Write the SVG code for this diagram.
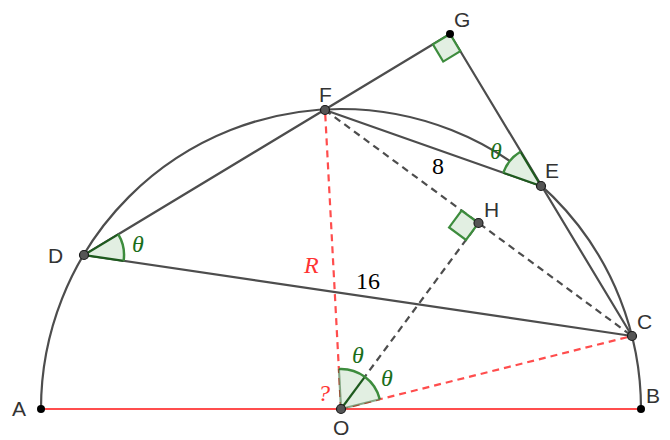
<svg xmlns="http://www.w3.org/2000/svg" width="670" height="440" viewBox="0 0 670 440">
<style>
.ln{stroke:#4d4d4d;stroke-width:2.2;fill:none;stroke-linecap:round}
.dsh{stroke:#4d4d4d;stroke-width:2.2;fill:none;stroke-dasharray:7,5}
.red{stroke:#ff4d4d;stroke-width:2.2;fill:none}
.rdsh{stroke:#ff4d4d;stroke-width:2.2;fill:none;stroke-dasharray:7,5}
.sec{fill:#e2efe2;stroke:none}
.sedge{stroke:#1e5a1e;stroke-width:2.2;fill:none}
.sarc{stroke:#3d8c3d;stroke-width:2.5;fill:none}
.ra{fill:#e2efe2;stroke:#3d8c3d;stroke-width:2.2}
.pt{fill:#555;stroke:#1a1a1a;stroke-width:1.2}
.bpt{fill:#000}
.lbl{font-family:"Liberation Sans",Arial,sans-serif;font-size:21px;fill:#333}
.th{font-family:"Liberation Serif","Times New Roman",serif;font-style:italic;font-size:24px;fill:#1a6e1a}
.num{font-family:"Liberation Serif","Times New Roman",serif;font-size:24px;fill:#000}
.rtx{font-family:"Liberation Serif","Times New Roman",serif;font-style:italic;font-size:24px;fill:#ff3333}
</style>
<g id="connectors">
<path class="ln" d="M41,409 A300,300 0 0 1 641,409"/>
<line class="red" x1="41" y1="409" x2="641" y2="409"/>
<line class="rdsh" x1="341" y1="409" x2="325" y2="110"/>
<line class="rdsh" x1="341" y1="409" x2="632" y2="336"/>
<line class="dsh" x1="325" y1="110" x2="632" y2="336"/>
<line class="dsh" x1="341" y1="409" x2="478.5" y2="223"/>
<line class="ln" x1="84" y1="255" x2="450" y2="34"/>
<line class="ln" x1="450" y1="34" x2="632" y2="336"/>
<line class="ln" x1="325" y1="110" x2="541" y2="186"/>
<line class="ln" x1="84" y1="255" x2="632" y2="336"/>
</g>
<g id="angle-D">
<path class="sec" d="M84,255 L123.6,260.8 A40,40 0 0 0 118.3,234.4 Z"/>
<path class="sedge" d="M123.6,260.8 L84,255 L118.3,234.4"/>
<path class="sarc" d="M123.6,260.8 A40,40 0 0 0 118.3,234.4"/>
</g>
<g id="angle-E">
<path class="sec" d="M541,186 L503.3,172.7 A40,40 0 0 1 520.4,151.7 Z"/>
<path class="sedge" d="M503.3,172.7 L541,186 L520.4,151.7"/>
<path class="sarc" d="M503.3,172.7 A40,40 0 0 1 520.4,151.7"/>
</g>
<g id="angle-O">
<path class="sec" d="M341,409 L379.8,399.3 A40,40 0 0 0 338.9,369 Z"/>
<path class="sedge" d="M341,409 L364.8,376.8"/>
<path class="sarc" d="M379.8,399.3 A40,40 0 0 0 338.9,369"/>
<path class="sedge" d="M341,409 L379.8,399.3" stroke-opacity="0.5"/>
<path class="sedge" d="M341,409 L338.9,369" stroke-opacity="0.5"/>
</g>
<g id="right-G">
<path class="ra" d="M450,34 L432.9,44.4 L443.2,61.6 L460.3,51.2 Z"/>
</g>
<g id="right-H">
<path class="ra" d="M478.5,223 L461.6,210.5 L449.1,227.4 L466,239.9 Z"/>
</g>
<g id="A"><circle class="bpt" cx="41" cy="409" r="4"/><text class="lbl" x="12" y="416">A</text></g>
<g id="B"><circle class="bpt" cx="641" cy="409" r="4"/><text class="lbl" x="646" y="403">B</text></g>
<g id="G"><circle class="bpt" cx="450" cy="34" r="4"/><text class="lbl" x="454" y="27">G</text></g>
<g id="O"><circle class="pt" cx="341" cy="409" r="4.5"/><text class="lbl" x="333" y="435">O</text></g>
<g id="F"><circle class="pt" cx="325" cy="110" r="4.5"/><text class="lbl" x="319" y="102">F</text></g>
<g id="D"><circle class="pt" cx="84" cy="255" r="4.5"/><text class="lbl" x="48" y="263">D</text></g>
<g id="C"><circle class="pt" cx="632" cy="336" r="4.5"/><text class="lbl" x="637" y="329">C</text></g>
<g id="E"><circle class="pt" cx="541" cy="186" r="4.5"/><text class="lbl" x="545" y="178">E</text></g>
<g id="H"><circle class="pt" cx="478.5" cy="223" r="4.5"/><text class="lbl" x="484" y="217">H</text></g>
<g id="labels">
<text class="th" x="132" y="252">θ</text>
<text class="th" x="490" y="159">θ</text>
<text class="th" x="352" y="363">θ</text>
<text class="th" x="381" y="386">θ</text>
<text class="rtx" x="304" y="273">R</text>
<text class="rtx" x="318" y="401">?</text>
<text class="num" x="356" y="289">16</text>
<text class="num" x="432" y="174">8</text>
</g>
</svg>
